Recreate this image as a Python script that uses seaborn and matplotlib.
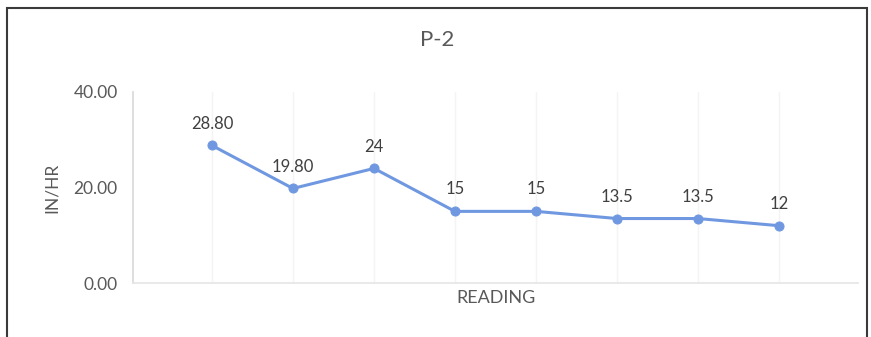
import numpy as np
import pandas as pd
import matplotlib
matplotlib.use("Agg")
import matplotlib.pyplot as plt
import seaborn as sns

sns.set_theme(style="white")
plt.rcParams['font.family'] = ['Lato', 'DejaVu Sans']

# -----------------------------
# data
# -----------------------------
readings = [1, 2, 3, 4, 5, 6, 7, 8]
rate = [28.80, 19.80, 24, 15, 15, 13.5, 13.5, 12]
rate_labels = ["28.80", "19.80", "24", "15", "15", "13.5", "13.5", "12"]
y_ticks = [0, 20, 40]
y_tick_labels = ["0.00", "20.00", "40.00"]

df = pd.DataFrame({"pos": np.arange(len(readings)), "rate": rate})

line_col = "#7098e0"
txt_col = "#595959"

fig = plt.figure(figsize=(8.71, 3.37), dpi=100)
ax = fig.add_axes([133 / 871, (337 - 283) / 337, 725 / 871, (283 - 92) / 337])

sns.lineplot(data=df, x="pos", y="rate", ax=ax, color=line_col, linewidth=2.2,
             marker="o", markersize=6.5, markeredgecolor=line_col, zorder=3)

for x, y, lab in zip(df["pos"], df["rate"], rate_labels):
    ax.annotate(lab, (x, y), xytext=(0, 10), textcoords="offset points",
                ha="center", va="bottom", fontsize=12, color="#404040")

ax.set_xlim(-0.975, 7.975)
ax.set_ylim(0, 40)
ax.set_yticks(y_ticks)
ax.set_yticklabels(y_tick_labels, color=txt_col, fontsize=12.5)
ax.set_xticks(df["pos"])
ax.set_xticklabels([])
ax.tick_params(axis="y", length=0, pad=11)
ax.tick_params(axis="x", length=0, pad=0)
ax.grid(axis="x", color="#f4f4f4", linewidth=1)

for side in ["top", "right"]:
    ax.spines[side].set_visible(False)
ax.spines["left"].set_color("#d9d9d9")
ax.spines["bottom"].set_color("#e6e6e6")

ax.set_ylabel("IN/HR", color=txt_col, fontsize=12.5)
ax.yaxis.set_label_coords(-(133 - 60) / 725, 0.5)
ax.set_xlabel("READING", color=txt_col, fontsize=13)
ax.xaxis.set_label_coords(0.5, -(298 - 283) / 191)
ax.xaxis.label.set_va("center")
fig.text(437 / 871, 1 - 40 / 337, "P-2", ha="center", va="center",
         fontsize=16, color=txt_col)

# chart frame
frame = plt.Rectangle((7 / 871, -0.05), 860 / 871, 1.05 - 8 / 337,
                      transform=fig.transFigure, fill=False,
                      edgecolor="#3a3a3a", linewidth=1.5)
fig.patches.append(frame)

fig.savefig("out.png", dpi=100)
